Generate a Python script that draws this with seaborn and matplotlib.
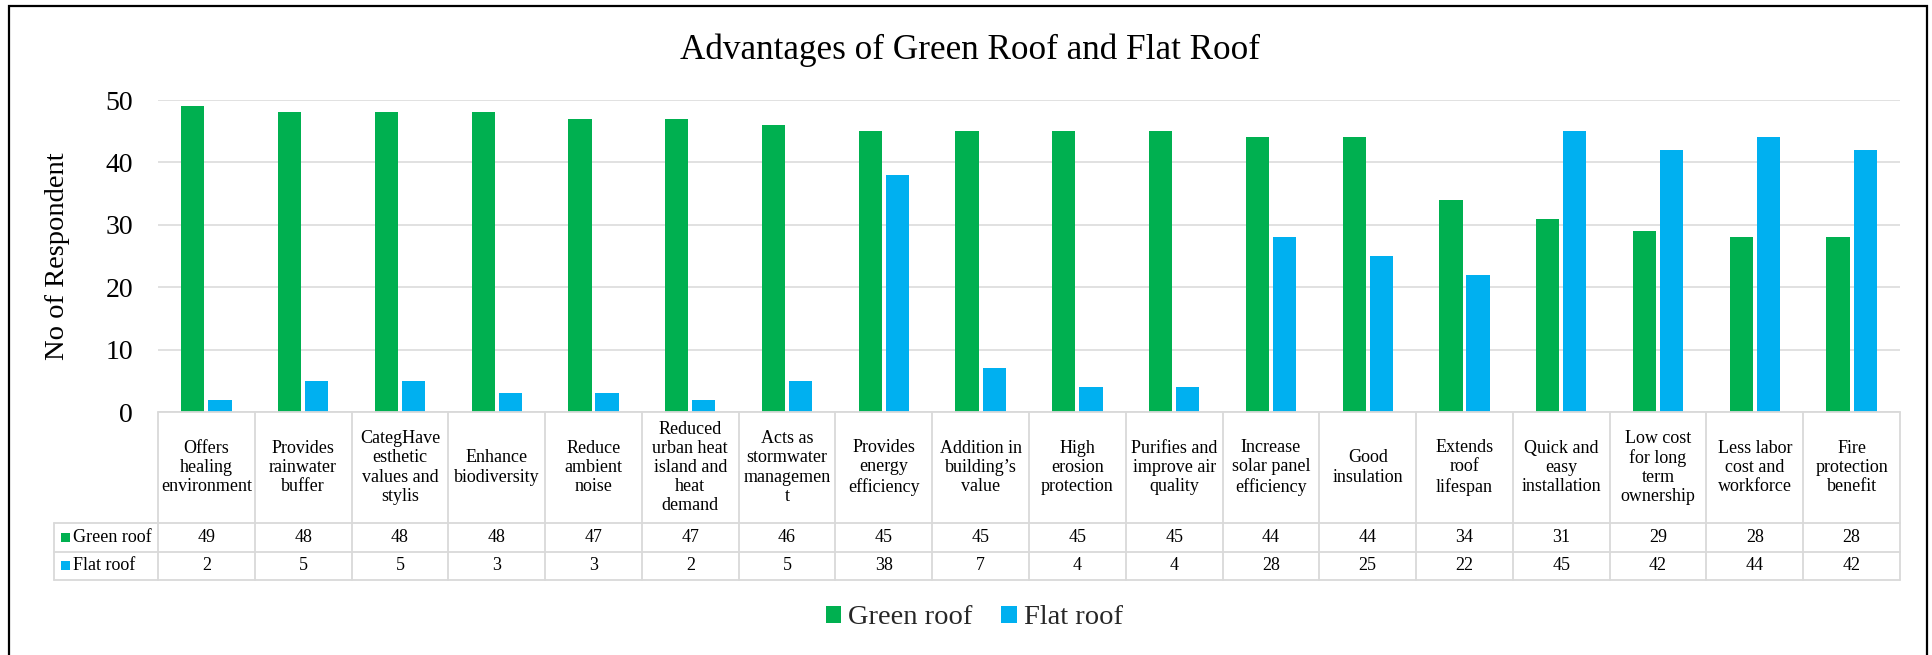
import matplotlib
matplotlib.use("Agg")
import matplotlib.pyplot as plt
import matplotlib.patches as mpatches
import matplotlib.transforms as mtransforms
import seaborn as sns
import pandas as pd

# ---- data -------------------------------------------------------------
categories = [
    "Offers\nhealing\nenvironment",
    "Provides\nrainwater\nbuffer",
    "CategHave\nesthetic\nvalues and\nstylis",
    "Enhance\nbiodiversity",
    "Reduce\nambient\nnoise",
    "Reduced\nurban heat\nisland and\nheat\ndemand",
    "Acts as\nstormwater\nmanagemen\nt",
    "Provides\nenergy\nefficiency",
    "Addition in\nbuilding\u2019s\nvalue",
    "High\nerosion\nprotection",
    "Purifies and\nimprove air\nquality",
    "Increase\nsolar panel\nefficiency",
    "Good\ninsulation",
    "Extends\nroof\nlifespan",
    "Quick and\neasy\ninstallation",
    "Low cost\nfor long\nterm\nownership",
    "Less labor\ncost and\nworkforce",
    "Fire\nprotection\nbenefit",
]
green_roof = [49, 48, 48, 48, 47, 47, 46, 45, 45, 45, 45, 44, 44, 34, 31, 29, 28, 28]
flat_roof = [2, 5, 5, 3, 3, 2, 5, 38, 7, 4, 4, 28, 25, 22, 45, 42, 44, 42]
series_names = ["Green roof", "Flat roof"]
series_colors = ["#00B050", "#00B0F0"]
y_ticks = [0, 10, 20, 30, 40, 50]
title = "Advantages of Green Roof and Flat Roof"
y_label = "No of Respondent"

df = pd.DataFrame({
    "Advantage": categories * 2,
    "Respondents": green_roof + flat_roof,
    "Roof": [series_names[0]] * len(categories) + [series_names[1]] * len(categories),
})

# ---- style ------------------------------------------------------------
sns.set_theme(style="white")
plt.rcParams["font.family"] = ["Liberation Serif", "DejaVu Serif"]
GRID = "#D9D9D9"

W, H = 1933, 655
fig = plt.figure(figsize=(W / 100, H / 100), dpi=100)
ax_left, ax_right, ax_top, ax_bottom = 158, 1900, 100, 412
ax = fig.add_axes([ax_left / W, 1 - ax_bottom / H,
                   (ax_right - ax_left) / W, (ax_bottom - ax_top) / H])

sns.barplot(data=df, x="Advantage", y="Respondents", hue="Roof",
            order=categories, hue_order=series_names, palette=series_colors,
            saturation=1, width=0.56, gap=0.14, linewidth=0,
            errorbar=None, legend=False, ax=ax)

n = len(categories)
ax.set_xlim(-0.5, n - 0.5)
ax.set_ylim(y_ticks[0], y_ticks[-1])
ax.set_yticks(y_ticks)
ax.set_xticks([])
ax.set_xlabel("")
ax.set_ylabel(y_label, fontsize=20.5, color="black")
ax.yaxis.set_label_coords(-0.0505, 0.5)
ax.tick_params(axis="y", length=0, pad=18, labelsize=20, labelcolor="black")
ax.yaxis.grid(True, color=GRID, linewidth=1.1)
ax.set_axisbelow(True)
for s in ax.spines.values():
    s.set_visible(False)

# ---- data table under the axis ----------------------------------------
trans = mtransforms.blended_transform_factory(ax.transData, ax.transAxes)
ax_h = ax_bottom - ax_top
px_per_cat = (ax_right - ax_left) / n
header_h = 111 / ax_h
row_h = 28.5 / ax_h
y_hdr = -header_h
y_r1 = y_hdr - row_h
y_r2 = y_r1 - row_h
leg_left = -0.5 - 104 / px_per_cat

line_kw = dict(color=GRID, linewidth=1.3, transform=trans, clip_on=False)
ax.plot([-0.5, n - 0.5], [0, 0], **line_kw)
for yy in (y_hdr, y_r1, y_r2):
    ax.plot([leg_left, n - 0.5], [yy, yy], **line_kw)
for i in range(n + 1):
    ax.plot([i - 0.5, i - 0.5], [0, y_r2], **line_kw)
ax.plot([leg_left, leg_left], [y_hdr, y_r2], **line_kw)

txt_kw = dict(transform=trans, fontsize=13, color="black", clip_on=False)
for i, cat in enumerate(categories):
    ax.text(i, y_hdr / 2, cat, ha="center", va="center", linespacing=1.17, **txt_kw)
for values, y_top in ((green_roof, y_hdr), (flat_roof, y_r1)):
    for i, v in enumerate(values):
        ax.text(i, y_top - row_h / 2, str(v), ha="center", va="center", **txt_kw)

sq_w = 9 / px_per_cat
sq_h = 9 / ax_h
for name, color, y_top in zip(series_names, series_colors, (y_hdr, y_r1)):
    yc = y_top - row_h / 2
    ax.add_patch(mpatches.Rectangle((leg_left + 7 / px_per_cat, yc - sq_h / 2), sq_w, sq_h,
                                    facecolor=color, edgecolor="none",
                                    transform=trans, clip_on=False))
    ax.text(leg_left + 19 / px_per_cat, yc, name, ha="left", va="center", **txt_kw)

# ---- title, legend, frame ---------------------------------------------
fig.text(0.502, 1 - 50 / H, title, ha="center", va="center", fontsize=25.3, color="black")

handles = [mpatches.Patch(facecolor=c, edgecolor="none", label=l)
           for l, c in zip(series_names, series_colors)]
fig.legend(handles=handles, loc="center", bbox_to_anchor=(0.504, 1 - 618 / H),
           ncol=2, frameon=False, fontsize=20.5, handlelength=0.55,
           handleheight=0.55, handletextpad=0.25, columnspacing=1.0)

fig.patches.append(mpatches.Rectangle((9 / W, -0.05), (1927 - 9) / W, 1.05 - 6 / H,
                                      transform=fig.transFigure, fill=False,
                                      edgecolor="black", linewidth=1.6))

fig.savefig("out.png", dpi=100, facecolor="white")
